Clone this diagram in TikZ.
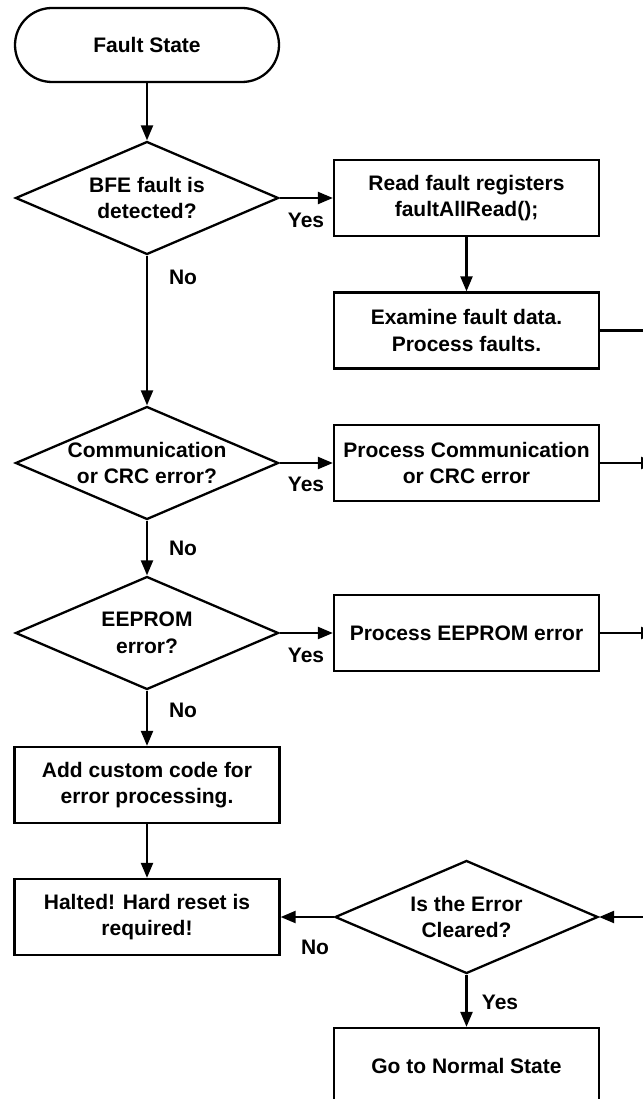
\documentclass[tikz,border=0pt]{standalone}
\usepackage{fontspec}
\setmainfont{Liberation Sans}
\usetikzlibrary{shapes.geometric,arrows.meta}
\begin{document}
\begin{tikzpicture}[x=1pt,y=-1pt,
  base/.style={draw=black, line width=2.3pt, font=\bfseries\fontsize{21}{26.5}\selectfont, align=center, inner sep=0pt},
  term/.style={base, rectangle, rounded corners=37pt, minimum width=264pt, minimum height=74pt},
  proc/.style={base, rectangle, minimum width=265pt, minimum height=76pt},
  dec/.style={base, diamond, aspect=2.33, minimum width=263pt, minimum height=113pt},
  lbl/.style={font=\bfseries\fontsize{21}{26.5}\selectfont, inner sep=0pt},
  arr/.style={line width=2.3pt, -{Triangle[length=15pt,width=12pt]}},
  ln/.style={line width=2.3pt}]
\useasboundingbox (0,0) rectangle (642,1099);

\node[term] (fs) at (147,45) {Fault State};
\node[dec] (d1) at (147,198) {BFE fault is\\detected?};
\node[proc] (rd) at (466.5,198) {Read fault registers\\faultAllRead();};
\node[proc] (ex) at (466.5,330.5) {Examine fault data.\\Process faults.};
\node[dec] (d2) at (147,463) {Communication\\or CRC error?};
\node[proc] (cm) at (466.5,463) {Process Communication\\or CRC error};
\node[dec] (d3) at (147,633) {EEPROM\\error?};
\node[proc] (ee) at (466.5,633) {Process EEPROM error};
\node[proc] (add) at (147,785) {Add custom code for\\error processing.};
\node[proc] (hal) at (147,917) {Halted! Hard reset is\\required!};
\node[dec] (clr) at (466.5,917) {Is the Error\\Cleared?};
\node[proc] (go) at (466.5,1066) {Go to Normal State};

\draw[arr] (fs) -- (d1);
\draw[arr] (d1.east) -- (rd.west);
\draw[arr] (rd) -- (ex);
\draw[arr] (d1) -- (d2);
\draw[arr] (d2.east) -- (cm.west);
\draw[arr] (d2) -- (d3);
\draw[arr] (d3.east) -- (ee.west);
\draw[arr] (d3) -- (add);
\draw[arr] (add) -- (hal);
\draw[arr] (clr.west) -- (hal.east);
\draw[arr] (clr) -- (go);

\coordinate (b1) at (645,330.5);
\coordinate (b2) at (656,463);
\coordinate (b3) at (656,633);
\coordinate (b4) at (645,917);
\draw[ln] (ex.east) -- (b1);
\draw[arr] (cm.east) -- (b2);
\draw[arr] (ee.east) -- (b3);
\draw[arr] (b4) -- (clr.east);

\node[lbl] (y1) at (306,220) {Yes};
\node[lbl] (y2) at (306,484) {Yes};
\node[lbl] (y3) at (306,655) {Yes};
\node[lbl] (n1) at (183,277) {No};
\node[lbl] (n2) at (183,548) {No};
\node[lbl] (n3) at (183,710) {No};
\node[lbl] (n4) at (315,947) {No};
\node[lbl] (y4) at (500,1002) {Yes};
\end{tikzpicture}
\end{document}
